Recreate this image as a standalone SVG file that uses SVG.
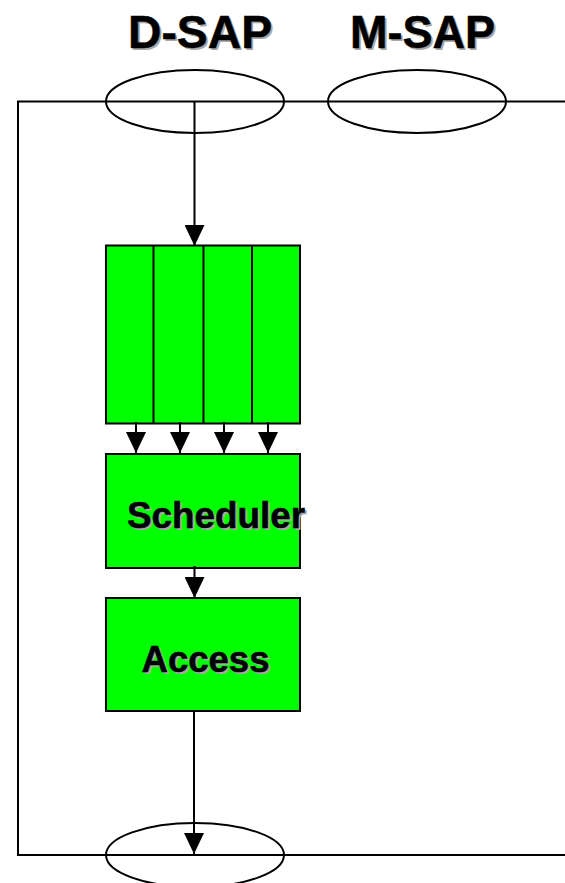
<svg xmlns="http://www.w3.org/2000/svg" width="565" height="883" viewBox="0 0 565 883">
<defs>
<style>
.ln{stroke:#000;stroke-width:2;fill:none}
.box{fill:#00FF00;stroke:#000;stroke-width:2}
.sap{fill:none;stroke:#000;stroke-width:2}
.t{font-family:"Liberation Sans",Arial,sans-serif;font-weight:bold;fill:#000;stroke:#000;stroke-width:0.5}
.sh{font-family:"Liberation Sans",Arial,sans-serif;font-weight:bold;fill:#a8a8a8}
</style>
<marker id="ah" markerWidth="21" markerHeight="20" refX="21" refY="10" orient="auto" markerUnits="userSpaceOnUse">
<path d="M0,0 L21,10 L0,20 Z" fill="#000"/>
</marker>
</defs>
<rect width="565" height="883" fill="#fff"/>
<g id="frame">
<path class="ln" d="M565,101.5 H18 V855 H565"/>
</g>
<g id="d-sap">
<ellipse class="sap" cx="195" cy="101.5" rx="89" ry="31.5"/>
<text class="sh" x="130" y="50" font-size="46" textLength="144" lengthAdjust="spacingAndGlyphs">D-SAP</text>
<text class="t" x="128" y="48" font-size="46" textLength="144" lengthAdjust="spacingAndGlyphs">D-SAP</text>
</g>
<g id="m-sap">
<ellipse class="sap" cx="417" cy="101.5" rx="89" ry="31.5"/>
<text class="sh" x="352" y="50" font-size="46" textLength="145" lengthAdjust="spacingAndGlyphs">M-SAP</text>
<text class="t" x="350" y="48" font-size="46" textLength="145" lengthAdjust="spacingAndGlyphs">M-SAP</text>
</g>
<g id="out-sap">
<ellipse class="sap" cx="195" cy="855" rx="89" ry="32"/>
</g>
<g id="queue">
<rect class="box" x="106" y="245.5" width="194" height="178"/>
<line class="ln" x1="153.5" y1="245.5" x2="153.5" y2="423.5"/>
<line class="ln" x1="203.5" y1="245.5" x2="203.5" y2="423.5"/>
<line class="ln" x1="252" y1="245.5" x2="252" y2="423.5"/>
</g>
<g id="scheduler">
<rect class="box" x="106" y="454" width="194" height="114"/>
<text class="sh" x="129" y="530" font-size="37" textLength="178" lengthAdjust="spacingAndGlyphs">Scheduler</text>
<text class="t" x="127" y="528" font-size="37" textLength="178" lengthAdjust="spacingAndGlyphs">Scheduler</text>
</g>
<g id="access">
<rect class="box" x="106" y="598" width="194" height="113"/>
<text class="sh" x="143.5" y="674" font-size="37" textLength="128" lengthAdjust="spacingAndGlyphs">Access</text>
<text class="t" x="141.5" y="672" font-size="37" textLength="128" lengthAdjust="spacingAndGlyphs">Access</text>
</g>
<g id="connectors">
<line class="ln" x1="194.5" y1="102" x2="194.5" y2="246" marker-end="url(#ah)"/>
<line class="ln" x1="136" y1="422" x2="136" y2="453" marker-end="url(#ah)"/>
<line class="ln" x1="180" y1="422" x2="180" y2="453" marker-end="url(#ah)"/>
<line class="ln" x1="224" y1="422" x2="224" y2="453" marker-end="url(#ah)"/>
<line class="ln" x1="268" y1="422" x2="268" y2="453" marker-end="url(#ah)"/>
<line class="ln" x1="194.5" y1="566" x2="194.5" y2="598" marker-end="url(#ah)"/>
<line class="ln" x1="194" y1="710" x2="194" y2="854" marker-end="url(#ah)"/>
</g>
</svg>
